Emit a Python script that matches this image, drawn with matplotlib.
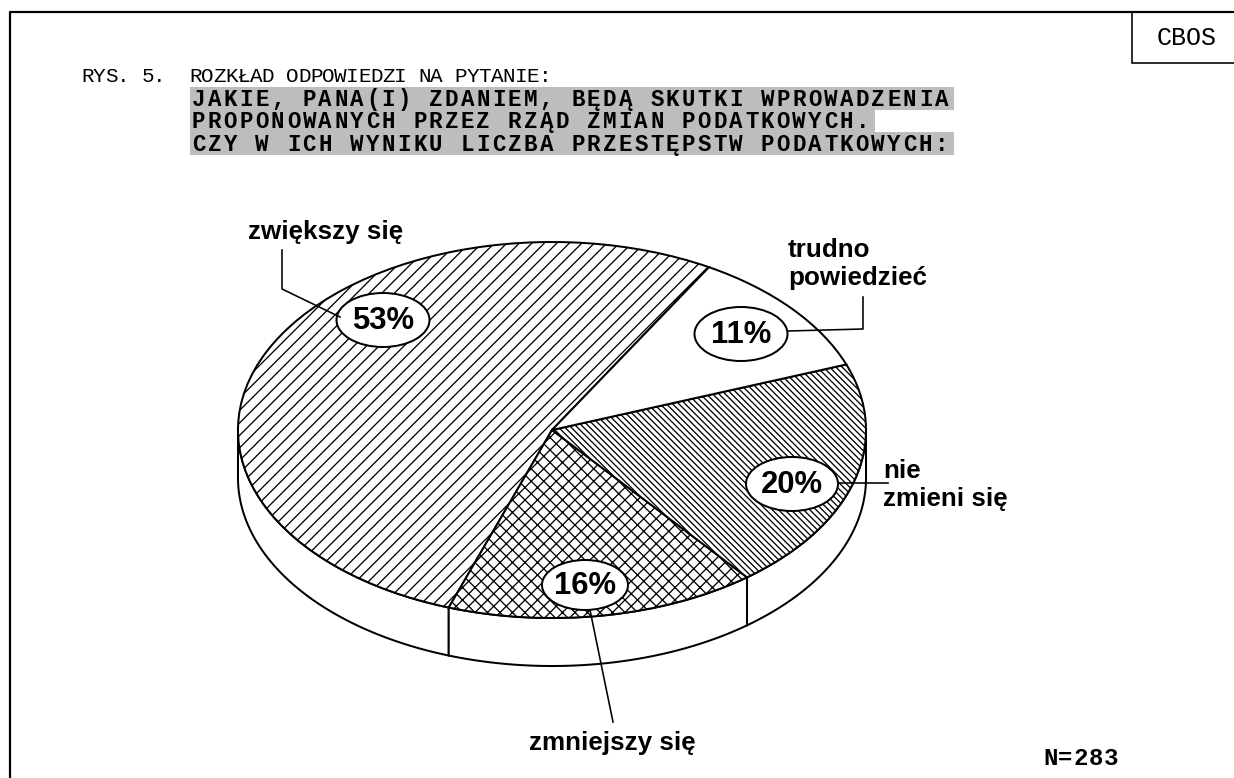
import numpy as np
import matplotlib
matplotlib.use("Agg")
import matplotlib.pyplot as plt
from matplotlib.patches import Ellipse, Polygon, Rectangle

# ---- data ----
categories = ["zwiększy się", "zmniejszy się", "nie\nzmieni się", "trudno\npowiedzieć"]
shares = [53, 16, 20, 11]
hatches = ["////", "xxxx", "\\" * 8, ""]
title_line = "RYS. 5.  ROZKŁAD ODPOWIEDZI NA PYTANIE:"
question_lines = [
    "JAKIE, PANA(I) ZDANIEM, BĘDĄ SKUTKI WPROWADZENIA",
    "PROPONOWANYCH PRZEZ RZĄD ZMIAN PODATKOWYCH.",
    "CZY W ICH WYNIKU LICZBA PRZESTĘPSTW PODATKOWYCH:",
]
sample_note = "N=283"
source_tag = "CBOS"

# ---- layout (pixels, y downwards) ----
W, H, DPI = 1235, 778, 150
PT = 72 / DPI                      # points per pixel
pie_box = (238, 242, 866, 618)     # left, top, right, bottom of the top ellipse
depth = 48 / 188                   # side height in pie units
start_angle = 60

# percent bubble centres / sizes and label anchors, same order as categories
bubble_xy = [(383, 320), (585, 585), (792, 484), (741, 334)]
bubble_wh = [(93, 54), (86, 50), (92, 54), (93, 54)]
label_xy = [(248, 239), (612, 750), (883, 506), (788, 285)]   # baseline of last line
label_ha = ["left", "center", "left", "left"]
leaders = [
    [(282, 250), (282, 289), (340, 317)],
    [(590, 610), (613, 722)],
    [(838, 483), (888, 483)],
    [(863, 297), (863, 329), (788, 331)],
]


def mono_text(ax, x, y, s, advance, size, **kw):
    """Monospace line drawn glyph by glyph with a fixed advance (px)."""
    for i, ch in enumerate(s):
        if ch != " ":
            ax.text(x + i * advance, y, ch, family="Liberation Mono",
                    fontsize=size * PT, va="baseline", ha="left", **kw)


plt.rcParams["hatch.linewidth"] = 1.3 * PT
fig = plt.figure(figsize=(W / DPI, H / DPI), dpi=DPI)

# ---- pie (elliptic, with a visible side) ----
l, t, r, b = pie_box
ax_pie = fig.add_axes([l / W, (H - b) / H, (r - l) / W, (b - t) / H], zorder=1)
wedges, _ = ax_pie.pie(
    shares, startangle=start_angle, counterclock=True, colors=["white"] * 4,
    hatch=hatches, wedgeprops=dict(edgecolor="black", linewidth=2 * PT),
)
ax_pie.set_aspect("auto")
ax_pie.set_xlim(-1, 1)
ax_pie.set_ylim(-1, 1)
ax_pie.axis("off")

for w in wedges:
    a = max(w.theta1, 180)
    z = min(w.theta2, 360)
    if z <= a:
        continue
    th = np.radians(np.linspace(a, z, 80))
    top = np.column_stack([np.cos(th), np.sin(th)])
    bot = np.column_stack([np.cos(th), np.sin(th) - depth])[::-1]
    ax_pie.add_patch(Polygon(np.vstack([top, bot]), closed=True, facecolor="white",
                             edgecolor="black", linewidth=2 * PT, zorder=0.5,
                             clip_on=False))

# ---- overlay in pixel coordinates ----
ax = fig.add_axes([0, 0, 1, 1], zorder=2)
ax.set_xlim(0, W)
ax.set_ylim(H, 0)
ax.axis("off")

# frame and source box
ax.plot([10, 10, W + 5], [H + 5, 12, 12], color="black", lw=2.2 * PT)
ax.add_patch(Rectangle((1132, 12), 120, 51, fill=False, edgecolor="black", lw=1.6 * PT))
ax.text(1187, 45, source_tag, family="Liberation Mono", fontsize=25 * PT,
        ha="center", va="baseline")

# title
mono_text(ax, 81, 82, title_line, 12.05, 21)
for i, line in enumerate(question_lines):
    y0 = 87 + i * 22.5
    ax.add_patch(Rectangle((190, y0), len(line) * 15.8 + 6, 22.5,
                           facecolor="#bdbdbd", edgecolor="none"))
    mono_text(ax, 192, y0 + 18.5, line, 15.8, 22.5, weight="bold")

# leaders, bubbles and labels
for pts in leaders:
    xs, ys = zip(*pts)
    ax.plot(xs, ys, color="black", lw=1.6 * PT)
for v, (cx, cy), (ew, eh) in zip(shares, bubble_xy, bubble_wh):
    ax.add_patch(Ellipse((cx, cy), ew, eh, facecolor="white", edgecolor="black",
                         lw=2 * PT))
    ax.text(cx, cy + 1, f"{v}%", family="Liberation Sans", weight="bold",
            fontsize=31 * PT, ha="center", va="center")
for name, (x, y), ha in zip(categories, label_xy, label_ha):
    ax.text(x, y, name, family="Liberation Sans", weight="bold", fontsize=26 * PT,
            ha=ha, va="baseline", linespacing=1.22)

mono_text(ax, 1043, 765, sample_note, 15.2, 24, weight="bold")

fig.savefig("out.png", dpi=DPI)
